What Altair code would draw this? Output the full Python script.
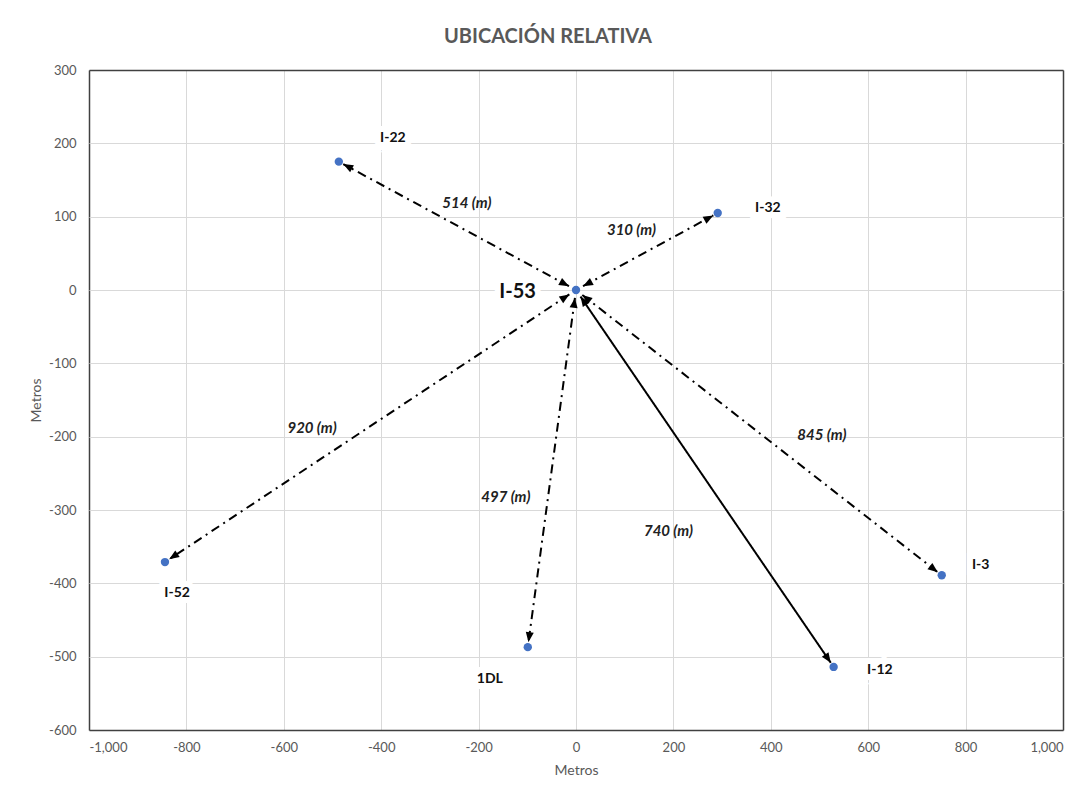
import math
import altair as alt
import pandas as pd

# ---- data ----
origin_name = "I-53"
origin_x, origin_y = 0, 0
origin_lx, origin_ly = -120, -3

names = ["I-22", "I-32", "I-3", "I-12", "1DL", "I-52"]
xs = [-487, 291, 751, 529, -99, -844]
ys = [175, 105, -389, -514, -487, -371]
name_x = [-376, 394, 831, 624, -177, -819]
name_y = [207, 112, -375, -518, -530, -413]

dist_labels = ["514 (m)", "310 (m)", "845 (m)", "740 (m)", "497 (m)", "920 (m)"]
dist_x = [-224, 114, 505, 190, -144, -542]
dist_y = [119, 82, -198, -329, -282, -188]
line_style = ["dashdot", "dashdot", "dashdot", "solid", "dashdot", "dashdot"]

x_domain = [-1000, 1000]
y_domain = [-600, 300]

W, H = 974, 660
sx = W / (x_domain[1] - x_domain[0])
sy = H / (y_domain[1] - y_domain[0])

# ---- derived geometry for arrows ----
GAP_O, GAP_T, HALF = 8, 5, 5
seg_rows, head_rows = [], []
for n, x, y, st in zip(names, xs, ys, line_style):
    dxp, dyp = (x - origin_x) * sx, -(y - origin_y) * sy
    L = math.hypot(dxp, dyp)
    ux, uy = dxp / L, dyp / L
    x0 = origin_x + ux * GAP_O / sx
    y0 = origin_y - uy * GAP_O / sy
    x1 = x - ux * GAP_T / sx
    y1 = y + uy * GAP_T / sy
    seg_rows.append(dict(name=n, x=x0, y=y0, x2=x1, y2=y1, style=st))
    ang_t = math.degrees(math.atan2(ux, -uy)) % 360
    ang_o = (ang_t + 180) % 360
    head_rows.append(dict(x=x1 - ux * HALF / sx, y=y1 + uy * HALF / sy, angle=ang_t))
    head_rows.append(dict(x=x0 + ux * HALF / sx, y=y0 - uy * HALF / sy, angle=ang_o))

segs = pd.DataFrame(seg_rows)
heads = pd.DataFrame(head_rows)
pts = pd.DataFrame({"x": [origin_x] + xs, "y": [origin_y] + ys, "name": [origin_name] + names})
name_df = pd.DataFrame({"x": name_x, "y": name_y, "label": names})
origin_df = pd.DataFrame({"x": [origin_lx], "y": [origin_ly], "label": [origin_name]})
dist_df = pd.DataFrame({"x": dist_x, "y": dist_y, "label": dist_labels})

FONT = "Lato"
GRAY = "#595959"
minus_fix = "replace(format(datum.value, ','), '\u2212', '-')"

axis_style = dict(domain=False, ticks=False, grid=True,
                  labelColor=GRAY, labelFont=FONT, labelFontSize=13, labelFontWeight=400,
                  titleColor=GRAY, titleFont=FONT, titleFontSize=14, titleFontWeight=400)

xs_scale = alt.Scale(domain=x_domain, nice=False, zero=False)
ys_scale = alt.Scale(domain=y_domain, nice=False, zero=False)
x_edge = "abs(datum.value) >= 1000"
y_edge = "datum.value >= 300 || datum.value <= -600"
x_axis = alt.Axis(values=list(range(-1000, 1001, 200)), title="Metros", labelExpr=minus_fix,
                  labelPadding=11, titlePadding=9, **axis_style,
                  gridColor=alt.condition(x_edge, alt.value("#404040"), alt.value("#D9D9D9")),
                  gridWidth=alt.condition(x_edge, alt.value(1.5), alt.value(1)))
y_axis = alt.Axis(values=list(range(-600, 301, 100)), title="Metros", labelExpr=minus_fix,
                  labelPadding=13, titlePadding=5, **axis_style,
                  gridColor=alt.condition(y_edge, alt.value("#404040"), alt.value("#D9D9D9")),
                  gridWidth=alt.condition(y_edge, alt.value(1.5), alt.value(1)))

base_enc = dict(
    x=alt.X("x:Q", scale=xs_scale, axis=x_axis),
    y=alt.Y("y:Q", scale=ys_scale, axis=y_axis),
)

lines = alt.Chart(segs).mark_rule(color="black", strokeWidth=2).encode(
    x=alt.X("x:Q", scale=xs_scale, axis=x_axis),
    y=alt.Y("y:Q", scale=ys_scale, axis=y_axis),
    x2="x2:Q", y2="y2:Q",
    strokeDash=alt.StrokeDash("style:N", scale=alt.Scale(domain=["dashdot", "solid"],
                                                          range=[[9, 5, 2, 5], [1, 0]]), legend=None),
)

arrow_heads = alt.Chart(heads).mark_point(
    shape="M0,-1L0.8,1L-0.8,1Z", filled=True, color="black", opacity=1, size=100
).encode(**base_enc, angle=alt.Angle("angle:Q", scale=None))

points = alt.Chart(pts).mark_circle(color="#4472C4", size=70, opacity=1).encode(**base_enc)

halo = alt.Chart(name_df).mark_text(font=FONT, fontSize=14, fontWeight="bold", stroke="white",
                                     strokeWidth=12, color="white").encode(**base_enc, text="label:N")
name_text = alt.Chart(name_df).mark_text(font=FONT, fontSize=14, fontWeight="bold", color="#111111").encode(
    **base_enc, text="label:N")
origin_halo = alt.Chart(origin_df).mark_text(font=FONT, fontSize=20, fontWeight="bold", stroke="white",
                                             strokeWidth=12, color="white").encode(**base_enc, text="label:N")
origin_text = alt.Chart(origin_df).mark_text(font=FONT, fontSize=20, fontWeight="bold", color="#111111").encode(
    **base_enc, text="label:N")
dist_text = alt.Chart(dist_df).mark_text(font=FONT, fontSize=15, fontWeight="bold", fontStyle="italic",
                                         color="#222222").encode(**base_enc, text="label:N")

chart = alt.layer(
    halo, origin_halo, lines, arrow_heads, points, name_text, origin_text, dist_text
).properties(
    width=W, height=H,
    autosize=alt.AutoSizeParams(type="none"),
    padding={"left": 89, "top": 70, "right": 28, "bottom": 66},
    title=alt.TitleParams("UBICACIÓN RELATIVA", font=FONT, fontSize=20, fontWeight="bold",
                          color=GRAY, anchor="middle", dx=-28, offset=1, baseline="alphabetic"),
).configure_view(
    stroke="#404040", strokeWidth=1.5
).configure(background="white")

chart.save("out.html", embed_options={"renderer": "svg", "actions": False})
